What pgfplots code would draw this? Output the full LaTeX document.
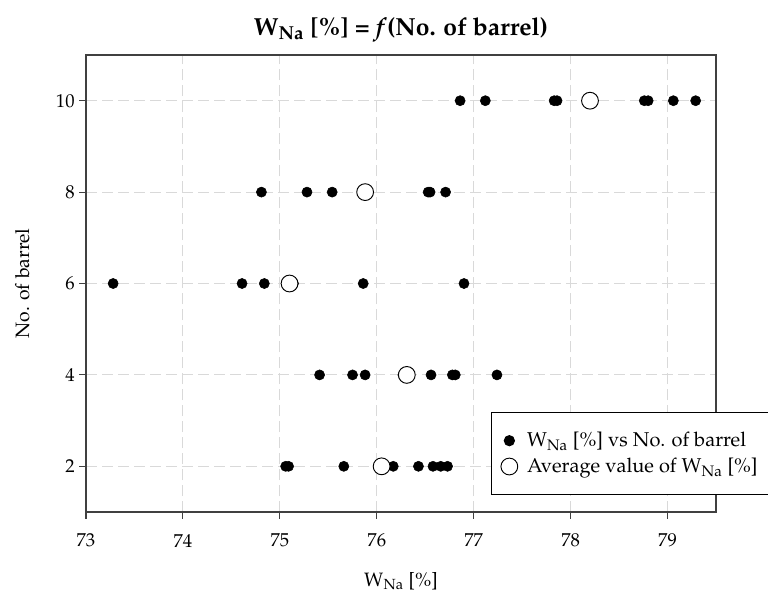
\documentclass[border=0pt]{standalone}
\usepackage[T1]{fontenc}
\usepackage{mathpazo}
\usepackage{pgfplots}
\pgfplotsset{compat=1.18}
\begin{document}
\begin{tikzpicture}
\begin{axis}[
  scale only axis,
  width=472.5pt, height=342.75pt,
  xmin=73, xmax=79.5, ymin=1, ymax=11,
  xtick={73,74,75,76,77,78,79},
  ytick={2,4,6,8,10},
  xtick pos=bottom, ytick pos=left,
  tick align=outside,
  major tick length=5pt,
  tick style={black!75, line width=0.8pt},
  axis line style={black!75, line width=0.8pt},
  grid=major,
  grid style={dashed, gray!30, line width=0.8pt, dash pattern=on 8pt off 4pt},
  tick label style={font=\fontsize{14}{16}\selectfont},
  xticklabel style={yshift=-8pt},
  ylabel={No. of barrel},
  xlabel={W\textsubscript{Na} [\%]},
  label style={font=\fontsize{14.5}{17}\selectfont},
  xlabel style={yshift=-12pt},
  ylabel style={yshift=13pt},
  title={\textbf{W\textsubscript{Na} [\%] = \textit{f}(No. of barrel)}},
  title style={font=\fontsize{18.5}{21}\selectfont, yshift=0pt},
  legend style={at={(0.643,0.219)}, anchor=north west, draw=black, line width=0.8pt,
    font=\fontsize{15}{17}\selectfont, inner xsep=7pt, inner ysep=13pt, row sep=3pt,
    cells={anchor=west}},
  legend cell align=left,
]
\coordinate (sw) at (rel axis cs:0,0);
\coordinate (ne) at (rel axis cs:1,1);
\addplot[only marks, mark=*, mark size=3.8pt, mark options={fill=black, draw=black}]
  coordinates {
  (76.86,10) (77.12,10) (77.83,10) (77.86,10) (78.76,10) (78.80,10) (79.06,10) (79.29,10)
  (74.81,8) (75.28,8) (75.54,8) (75.87,8) (75.90,8) (76.53,8) (76.55,8) (76.71,8)
  (73.28,6) (74.61,6) (74.84,6) (75.14,6) (75.86,6) (76.90,6)
  (75.41,4) (75.75,4) (75.88,4) (76.27,4) (76.56,4) (76.78,4) (76.81,4) (77.24,4)
  (75.06,2) (75.09,2) (75.66,2) (76.17,2) (76.43,2) (76.58,2) (76.66,2) (76.73,2)
  };
\addlegendentry{\hspace{5pt}W\textsubscript{Na} [\%] vs No. of barrel}
\addplot[only marks, mark=*, mark size=6.3pt, mark options={fill=white, draw=black, line width=0.7pt}]
  coordinates {
  (78.20,10) (75.88,8) (75.10,6) (76.31,4) (76.05,2)
  };
\addlegendentry{\hspace{5pt}Average value of W\textsubscript{Na} [\%]}
\end{axis}
\pgfresetboundingbox
\path[use as bounding box] ([xshift=-64.5pt,yshift=-66.75pt]sw) rectangle ([xshift=39pt,yshift=41.25pt]ne);
\end{tikzpicture}
\end{document}
